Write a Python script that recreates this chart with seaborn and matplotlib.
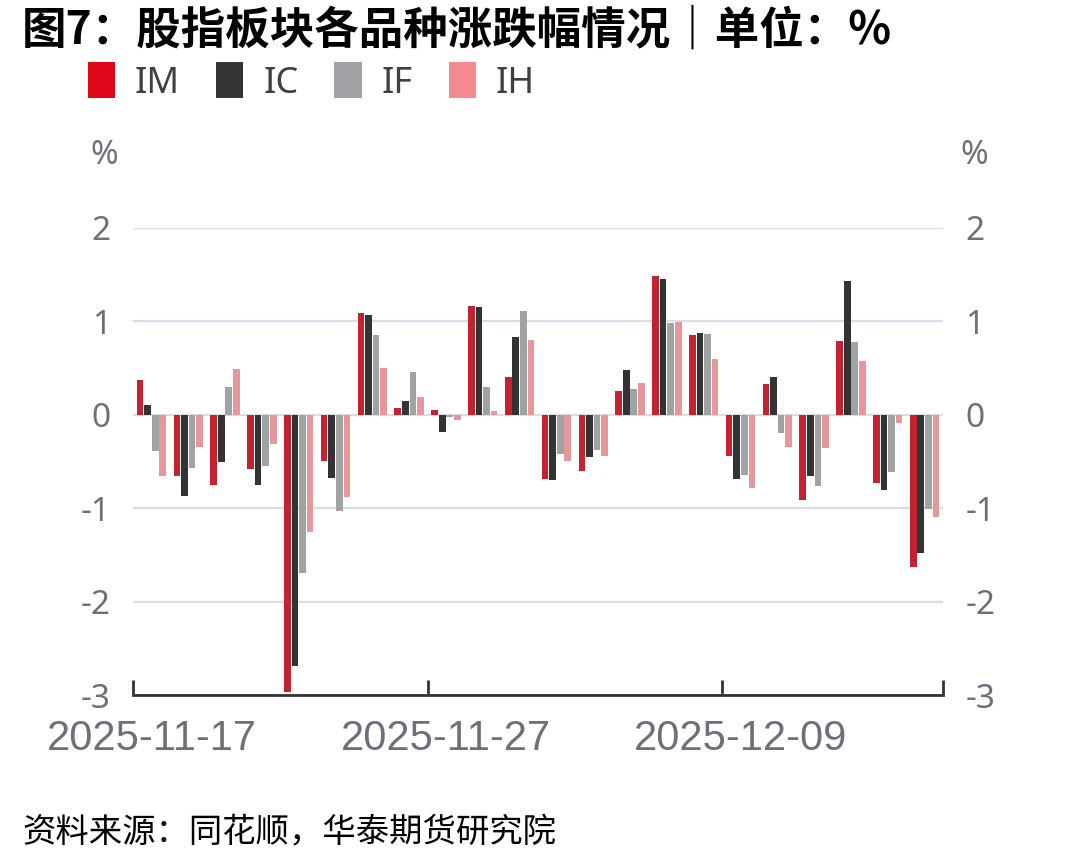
import pandas as pd
import matplotlib
matplotlib.use("Agg")
import matplotlib.pyplot as plt
import seaborn as sns
from matplotlib import font_manager
from matplotlib.patches import Patch

# daily change of each stock index future, %
dates = ['2025-11-17', '2025-11-18', '2025-11-19', '2025-11-20', '2025-11-21',
         '2025-11-24', '2025-11-25', '2025-11-26', '2025-11-27', '2025-11-28',
         '2025-12-01', '2025-12-02', '2025-12-03', '2025-12-04', '2025-12-05',
         '2025-12-08', '2025-12-09', '2025-12-10', '2025-12-11', '2025-12-12',
         '2025-12-15', '2025-12-16']
im = [0.37, -0.66, -0.75, -0.58, -2.97, -0.49, 1.09, 0.07, 0.05, 1.16, 0.41,
      -0.69, -0.60, 0.26, 1.49, 0.85, -0.44, 0.33, -0.91, 0.79, -0.73, -1.63]
ic = [0.11, -0.87, -0.51, -0.75, -2.69, -0.68, 1.07, 0.15, -0.18, 1.15, 0.83,
      -0.70, -0.45, 0.48, 1.45, 0.88, -0.69, 0.40, -0.66, 1.43, -0.80, -1.48]
if_ = [-0.39, -0.57, 0.30, -0.55, -1.69, -1.03, 0.85, 0.46, -0.02, 0.30, 1.11,
       -0.42, -0.38, 0.28, 0.98, 0.86, -0.64, -0.19, -0.76, 0.78, -0.61, -1.01]
ih = [-0.66, -0.35, 0.49, -0.31, -1.26, -0.88, 0.50, 0.19, -0.06, 0.04, 0.80,
      -0.50, -0.44, 0.34, 0.99, 0.60, -0.78, -0.35, -0.36, 0.58, -0.09, -1.09]
contracts = ['IM', 'IC', 'IF', 'IH']
colors = ['#E0061A', '#333333', '#A0A2A5', '#F28A90']
shown_dates = ['2025-11-17', '2025-11-27', '2025-12-09']

df = pd.DataFrame({'date': dates, 'IM': im, 'IC': ic, 'IF': if_, 'IH': ih})
df = df.melt(id_vars='date', var_name='contract', value_name='value')

sns.set_style("white")
plt.rcParams['font.family'] = ['Noto Sans', 'Noto Sans CJK SC', 'DejaVu Sans']
names = {f.name for f in font_manager.fontManager.ttflist}
narrow = 'Liberation Sans Narrow' if 'Liberation Sans Narrow' in names else 'Liberation Sans'
grey = '#6E7079'

fig = plt.figure(figsize=(10.78, 8.66), dpi=100)
ax = fig.add_axes([133 / 1078, 1 - 695 / 866, 810 / 1078, 467 / 866])

sns.barplot(data=df, x='date', y='value', hue='contract', hue_order=contracts,
            palette=colors, width=0.82, gap=0.12, legend=False, ax=ax,
            edgecolor='none', linewidth=0)

ax.set_xlim(-0.5, len(dates) - 0.5)
ax.set_ylim(-3, 2)
ax.set_xlabel('')
ax.set_ylabel('')

# y axis: labels on both sides, light grid
ax.set_yticks([-3, -2, -1, 0, 1, 2])
ax.set_yticklabels(['-3', '-2', '-1', '0', '1', '2'])
ax.yaxis.grid(True, color='#DADDE6', linewidth=1.6)
ax.set_axisbelow(True)
ax.tick_params(axis='y', length=0, labelleft=True, labelright=True,
               labelsize=24, labelcolor=grey)
ax.tick_params(axis='y', which='major', pad=16)
for t in ax.yaxis.get_major_ticks():
    t.label2.set_horizontalalignment('left')
    t.set_pad(16)

# x axis: labels at category centres, ticks at boundaries
pos = [dates.index(d) for d in shown_dates]
ax.set_xticks(pos)
ax.set_xticklabels(shown_dates, fontsize=30, color=grey, family=narrow)
ax.tick_params(axis='x', which='major', length=0, pad=17)
ax.set_xticks([-0.5, 7.5, 15.5, len(dates) - 0.5], minor=True)
ax.tick_params(axis='x', which='minor', bottom=True, direction='in',
               length=11, width=2, color='#333333')

for s in ['top', 'right', 'left']:
    ax.spines[s].set_visible(False)
ax.spines['bottom'].set_color('#333333')
ax.spines['bottom'].set_linewidth(2)

fig.text(104 / 1078, 1 - 155 / 866, '%', ha='center', va='center',
         fontsize=24, color=grey)
fig.text(974 / 1078, 1 - 155 / 866, '%', ha='center', va='center',
         fontsize=24, color=grey)

fig.text(22 / 1078, 1 - 31 / 866, '图7：股指板块各品种涨跌幅情况｜单位：%',
         ha='left', va='center', fontsize=32, fontweight='bold',
         family=['Noto Sans CJK SC', 'DejaVu Sans'], color='black')

handles = [Patch(facecolor=c, edgecolor='none') for c in colors]
fig.legend(handles, contracts, loc='center left',
           bbox_to_anchor=(88 / 1078, 1 - 82 / 866), ncol=4, frameon=False,
           fontsize=26, handlelength=0.75, handleheight=1.15,
           handletextpad=0.55, columnspacing=1.0, labelcolor='#404040',
           borderpad=0, borderaxespad=0)

fig.text(22 / 1078, 1 - 833 / 866, '资料来源：同花顺，华泰期货研究院',
         ha='left', va='center', fontsize=24, style='italic',
         family=['Noto Sans CJK SC', 'DejaVu Sans'], color='black')

plt.savefig('out.png', dpi=100)
